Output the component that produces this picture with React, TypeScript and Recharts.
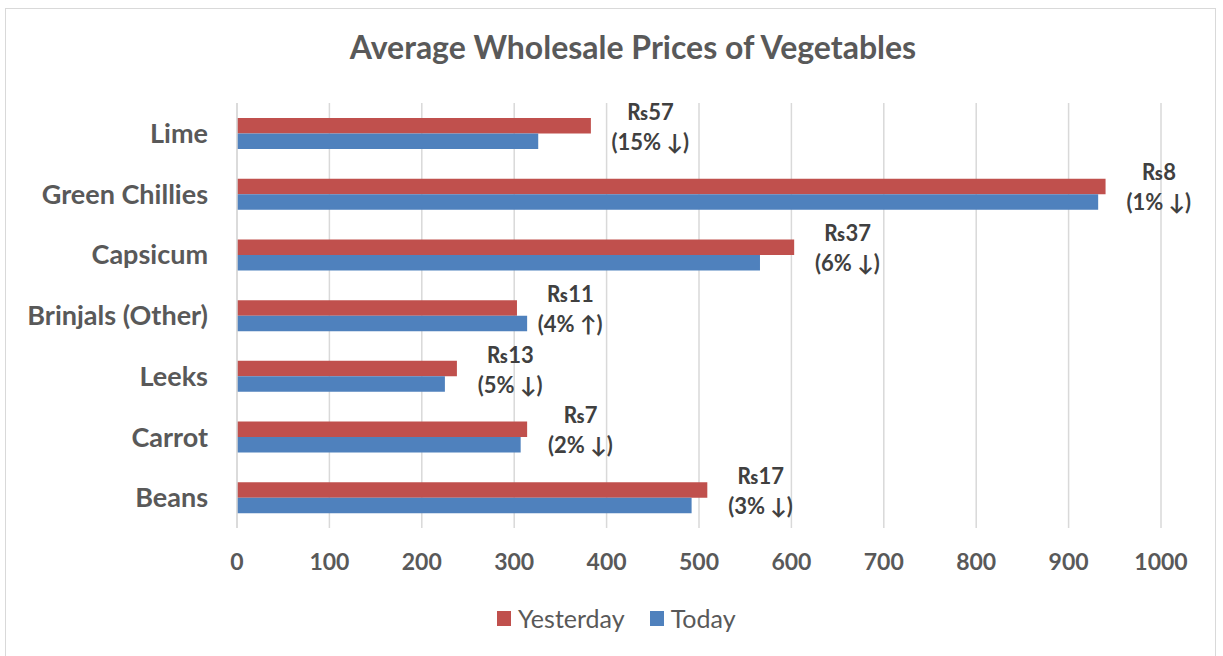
import { BarChart, Bar, XAxis, YAxis, CartesianGrid, LabelList } from 'recharts'

const CATEGORIES = ['Lime', 'Green Chillies', 'Capsicum', 'Brinjals (Other)', 'Leeks', 'Carrot', 'Beans']
const YESTERDAY = [383, 940, 603, 303, 238, 314, 509]
const TODAY = [326, 932, 566, 314, 225, 307, 492]
const CHANGE = ['₨57', '₨8', '₨37', '₨11', '₨13', '₨7', '₨17']
const PCT = ['(15% ↓)', '(1% ↓)', '(6% ↓)', '(4% ↑)', '(5% ↓)', '(2% ↓)', '(3% ↓)']
const X_TICKS = [0, 100, 200, 300, 400, 500, 600, 700, 800, 900, 1000]

const RED = '#C0504D'
const BLUE = '#4F81BD'
const GREY = '#595959'
const FONT = 'Lato, "Open Sans", sans-serif'

const data = CATEGORIES.map((name, i) => ({
  name,
  yesterday: YESTERDAY[i],
  today: TODAY[i],
}))

function ChangeLabel(props: any) {
  const { x, y, width, height, index } = props
  const cx = x + width + 16 + PCT[index].length * 6.2
  const cy = y + height / 2
  return (
    <text textAnchor="middle" fill="#404040" fontWeight={700} fontSize={22} fontFamily={FONT}>
      <tspan x={cx} y={cy - 6}>{CHANGE[index]}</tspan>
      <tspan x={cx} y={cy + 24}>{PCT[index]}</tspan>
    </text>
  )
}

function LegendRow() {
  const item = (color: string, label: string, gap: number) => (
    <span style={{ display: 'inline-flex', alignItems: 'center', marginRight: gap }}>
      <span style={{ width: 14, height: 15, background: color, display: 'inline-block', marginRight: 7 }} />
      <span style={{ fontSize: 25, color: GREY, fontFamily: FONT, lineHeight: '30px' }}>{label}</span>
    </span>
  )
  return (
    <div style={{ position: 'absolute', left: 497, top: 603, display: 'flex', whiteSpace: 'nowrap' }}>
      {item(RED, 'Yesterday', 25)}
      {item(BLUE, 'Today', 0)}
    </div>
  )
}

export default function App() {
  return (
    <div style={{ position: 'absolute', left: 0, top: 0, width: 1223, height: 656, background: '#fff', overflow: 'hidden' }}>
      <div style={{
        position: 'absolute', left: 5, top: 8, width: 1211, height: 700,
        border: '1.5px solid #D9D9D9', boxSizing: 'border-box',
      }} />
      <div style={{
        position: 'absolute', left: 0, top: 27, width: 1266, textAlign: 'center',
        fontFamily: FONT, fontWeight: 700, fontSize: 32, color: GREY, lineHeight: '40px',
      }}>
        Average Wholesale Prices of Vegetables
      </div>
      <div style={{ position: 'absolute', left: 0, top: 0 }}>
        <BarChart
          width={1223}
          height={656}
          data={data}
          layout="vertical"
          margin={{ top: 103, right: 62, bottom: 88, left: 0 }}
          barGap={0}
          barSize={15.5}
        >
          <CartesianGrid horizontal={false} stroke="#D9D9D9" strokeWidth={1.5} />
          <XAxis
            type="number"
            domain={[0, 1000]}
            ticks={X_TICKS}
            axisLine={false}
            tickLine={false}
            tickSize={0}
            tickMargin={26}
            height={40}
            tick={{ fill: GREY, fontSize: 23, fontWeight: 700, fontFamily: FONT }}
          />
          <YAxis
            type="category"
            dataKey="name"
            width={237}
            axisLine={{ stroke: '#D9D9D9', strokeWidth: 1.5 }}
            tickLine={false}
            tickSize={0}
            tickMargin={29}
            tick={{ fill: GREY, fontSize: 27, fontWeight: 700, fontFamily: FONT }}
          />
          <Bar dataKey="yesterday" name="Yesterday" fill={RED} isAnimationActive={false}>
            <LabelList dataKey="yesterday" content={<ChangeLabel />} />
          </Bar>
          <Bar dataKey="today" name="Today" fill={BLUE} isAnimationActive={false} />
        </BarChart>
      </div>
      <LegendRow />
    </div>
  )
}
